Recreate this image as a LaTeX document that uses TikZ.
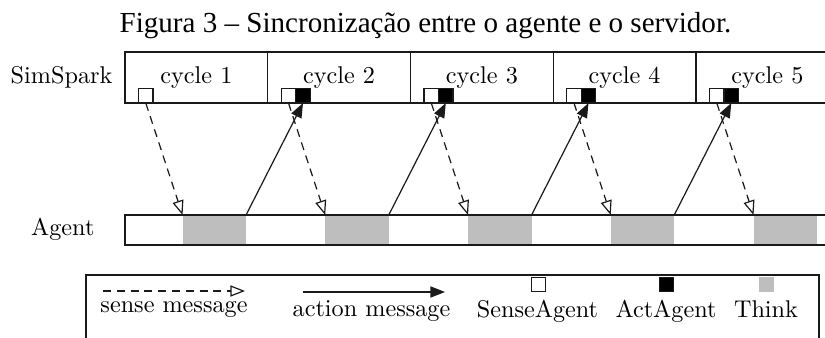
\documentclass[tikz,border=0pt]{standalone}
\usepackage{fontspec}
\newfontfamily\figtitlefont[Ligatures=TeX]{Liberation Serif}
\usetikzlibrary{positioning,arrows.meta}
\definecolor{ink}{HTML}{1A1A1A}
\definecolor{think}{HTML}{BEBEBE}

\begin{document}
\begin{tikzpicture}[
  x=0.413pt, y=-0.413pt,
  font=\normalsize,
  line width=0.5pt,
  cell/.style     = {draw=ink, inner sep=0pt, outer sep=0pt,
                     minimum width=58.95pt, minimum height=21.06pt},
  sq/.style       = {draw=ink, inner sep=0pt, outer sep=0pt, minimum size=6pt},
  sensesq/.style  = {sq, fill=white},
  actsq/.style    = {sq, fill=black},
  thinkbox/.style = {fill=think, inner sep=0pt, outer sep=0pt,
                     minimum width=26.23pt, minimum height=12.39pt},
  sensemsg/.style = {draw=ink, dash pattern=on 3.3pt off 2.4pt,
                     -{Triangle[open, length=6pt, width=4.6pt]}},
  actmsg/.style   = {draw=ink, -{Triangle[length=6pt, width=4.6pt]}},
  lab/.style      = {inner sep=0pt, anchor=base},
]
\useasboundingbox (0,0) rectangle (825,338);
\clip (0,0) rectangle (825,338);

% ---------- title ----------
\node[lab] (title) at (425.5,33)
  {\fontsize{12}{14}\figtitlefont Figura 3 -- Sincronização entre o agente e o servidor.};

% ---------- server cycles ----------
\node[lab, anchor=base east] (simspark) at (113,84) {SimSpark};
\node[cell] (c1) at (196.4,77.5) {cycle 1};
\node[cell] (c2) at (339.1,77.5) {cycle 2};
\node[cell] (c3) at (481.9,77.5) {cycle 3};
\node[cell] (c4) at (624.6,77.5) {cycle 4};
\node[cell] (c5) at (767.4,77.5) {cycle 5};

\node[sensesq] (s1) at (145.8,95.8) {};
\node[sensesq] (s2) at (288.5,95.8) {};
\node[actsq]   (a2) at (303.0,95.8) {};
\node[sensesq] (s3) at (431.3,95.8) {};
\node[actsq]   (a3) at (445.8,95.8) {};
\node[sensesq] (s4) at (574.0,95.8) {};
\node[actsq]   (a4) at (588.5,95.8) {};
\node[sensesq] (s5) at (716.8,95.8) {};
\node[actsq]   (a5) at (731.3,95.8) {};

% ---------- agent timeline ----------
\node[lab, anchor=base east] (agentlab) at (95,236) {Agent};
\node[thinkbox] (g1) at (214.3,230) {};
\node[thinkbox] (g2) at (357.0,230) {};
\node[thinkbox] (g3) at (499.8,230) {};
\node[thinkbox] (g4) at (642.5,230) {};
\node[thinkbox] (g5) at (785.3,230) {};
\node[draw=ink, inner sep=0pt, outer sep=0pt, minimum width=295.3pt,
      minimum height=12.39pt, anchor=west] (agent) at (125,230) {};

% ---------- messages ----------
\draw[sensemsg] (s1.south) -- (g1.north west);
\draw[sensemsg] (s2.south) -- (g2.north west);
\draw[sensemsg] (s3.south) -- (g3.north west);
\draw[sensemsg] (s4.south) -- (g4.north west);
\draw[sensemsg] (s5.south) -- (g5.north west);
\draw[actmsg] (g1.north east) -- (a2.south);
\draw[actmsg] (g2.north east) -- (a3.south);
\draw[actmsg] (g3.north east) -- (a4.south);
\draw[actmsg] (g4.north east) -- (a5.south);

% ---------- legend ----------
\node[draw=ink, inner sep=0pt, outer sep=0pt, minimum width=302.7pt,
      minimum height=33pt, anchor=north west] (legend) at (86,275) {};
\coordinate (ls0) at (103,291);
\coordinate (ls1) at (245,291);
\draw[sensemsg] (ls0) -- (ls1);
\node[lab] (lsense) at (174,312) {sense message};
\coordinate (la0) at (303,292);
\coordinate (la1) at (445,292);
\draw[actmsg] (la0) -- (la1);
\node[lab] (lact) at (371.5,317) {action message};
\node[sensesq] (lsq) at (538.5,284.5) {};
\node[lab] (lsenseag) at (537.5,318) {SenseAgent};
\node[actsq] (lasq) at (666.5,284.5) {};
\node[lab] (lactag) at (666,318) {ActAgent};
\node[thinkbox, minimum width=6pt, minimum height=6pt] (ltsq) at (766.5,284.5) {};
\node[lab] (lthink) at (766,318) {Think};

\end{tikzpicture}
\end{document}
